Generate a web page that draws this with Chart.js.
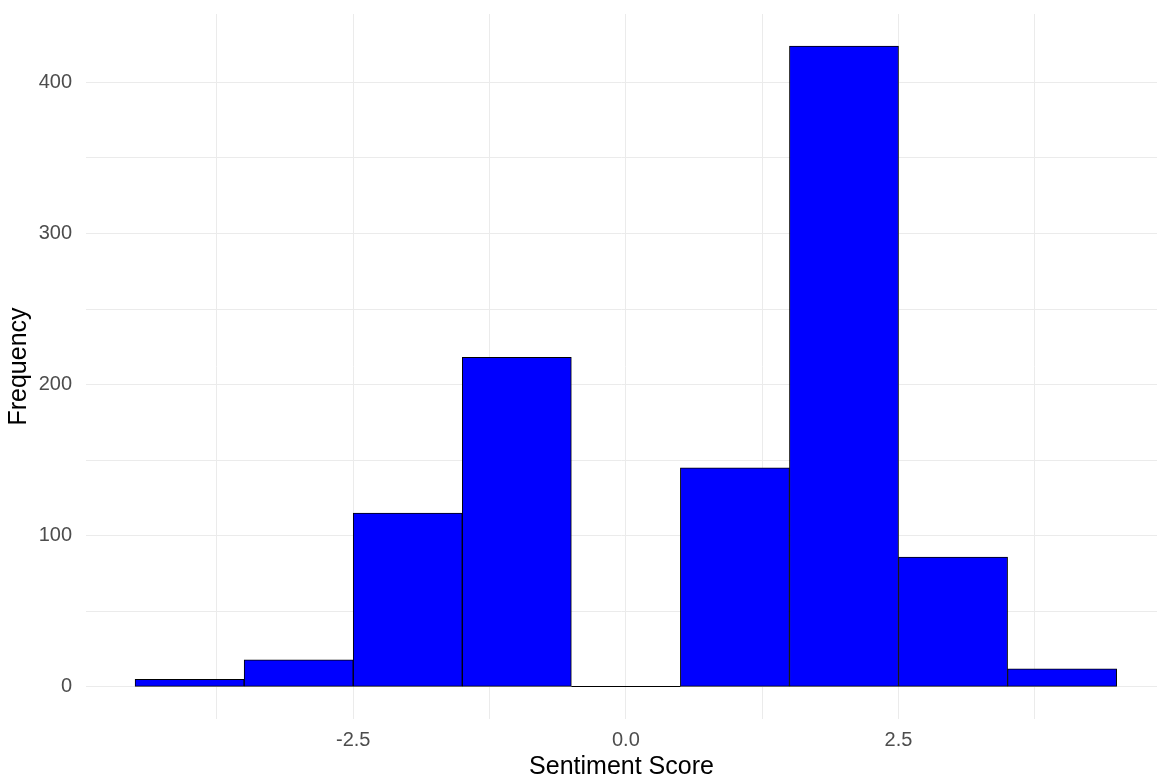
<!DOCTYPE html>
<html>
<head>
<meta charset="utf-8">
<script src="https://cdn.jsdelivr.net/npm/chart.js@4/dist/chart.umd.min.js"></script>
<style>
  html, body { margin: 0; padding: 0; background: #ffffff; overflow: hidden; }
  #wrap { width: 1157px; height: 780px; position: relative; }
</style>
</head>
<body>
<div id="wrap"><canvas id="c"></canvas></div>
<script>
// Histogram bins (centers, width 1) and counts
const binCenters = [-4, -3, -2, -1, 0, 1, 2, 3, 4];
const frequencies = [5, 18, 115, 218, 0, 145, 424, 86, 12];
// Grid/tick positions (major labelled, minor unlabelled)
const xTickValues = [-3.75, -2.5, -1.25, 0, 1.25, 2.5, 3.75];
const xLabelledTicks = [-2.5, 0, 2.5];
const yTickValues = [0, 50, 100, 150, 200, 250, 300, 350, 400];
const yLabelledTicks = [0, 100, 200, 300, 400];

const xTitle = 'Sentiment Score';
const yTitle = 'Frequency';

const FONT = '"Liberation Sans", Arial, Helvetica, sans-serif';
const GRID = '#EBEBEB';

const zeroBarPlugin = {
  id: 'zeroBar',
  afterDatasetsDraw(chart) {
    const ctx = chart.ctx;
    chart.data.datasets.forEach((ds, di) => {
      const meta = chart.getDatasetMeta(di);
      meta.data.forEach((el, i) => {
        if (ds.data[i].y === 0) {
          const p = el.getProps(['x', 'y', 'width'], true);
          ctx.save();
          ctx.strokeStyle = '#000000';
          ctx.lineWidth = 1;
          ctx.beginPath();
          ctx.moveTo(p.x - p.width / 2, Math.round(p.y) - 0.5);
          ctx.lineTo(p.x + p.width / 2, Math.round(p.y) - 0.5);
          ctx.stroke();
          ctx.restore();
        }
      });
    });
  }
};

new Chart(document.getElementById('c'), {
  type: 'bar',
  data: {
    datasets: [{
      data: binCenters.map((c, i) => ({ x: c, y: frequencies[i] })),
      backgroundColor: '#0000FF',
      borderColor: '#000000',
      borderWidth: 1,
      borderSkipped: false,
      barPercentage: 1.0,
      categoryPercentage: 1.0
    }]
  },
  plugins: [zeroBarPlugin],
  options: {
    responsive: true,
    maintainAspectRatio: false,
    animation: false,
    layout: { padding: { top: 14, right: 0, bottom: 0, left: 0 } },
    plugins: { legend: { display: false }, tooltip: { enabled: false } },
    scales: {
      x: {
        type: 'linear',
        min: -4.95,
        max: 4.87,
        offset: false,
        afterBuildTicks: (scale) => { scale.ticks = xTickValues.map(v => ({ value: v })); },
        afterFit: (scale) => {
          scale.height = 61;
          scale.paddingLeft = 0; scale.paddingRight = 0;
        },
        grid: { color: GRID, lineWidth: 1, drawTicks: false, offset: false },
        border: { display: false },
        ticks: {
          padding: 9,
          color: '#4D4D4D',
          font: { family: FONT, size: 20 },
          maxRotation: 0,
          autoSkip: false,
          callback: (v) => xLabelledTicks.includes(v) ? v.toFixed(1) : ''
        },
        title: {
          display: true,
          text: xTitle,
          color: '#000000',
          font: { family: FONT, size: 25, lineHeight: 1 },
          padding: { top: 0, bottom: 0 }
        }
      },
      y: {
        min: -21.2,
        max: 445.2,
        afterBuildTicks: (scale) => { scale.ticks = yTickValues.map(v => ({ value: v })); },
        afterFit: (scale) => {
          scale.width = 86;
          scale.paddingTop = 0; scale.paddingBottom = 0;
        },
        grid: { color: GRID, lineWidth: 1, drawTicks: false },
        border: { display: false },
        ticks: {
          padding: 14,
          color: '#4D4D4D',
          font: { family: FONT, size: 20 },
          autoSkip: false,
          callback: (v) => yLabelledTicks.includes(v) ? String(v) : ''
        },
        title: {
          display: true,
          text: yTitle,
          color: '#000000',
          font: { family: FONT, size: 25, lineHeight: 1 },
          padding: { top: 7, bottom: 0 }
        }
      }
    }
  }
});
</script>
</body>
</html>
